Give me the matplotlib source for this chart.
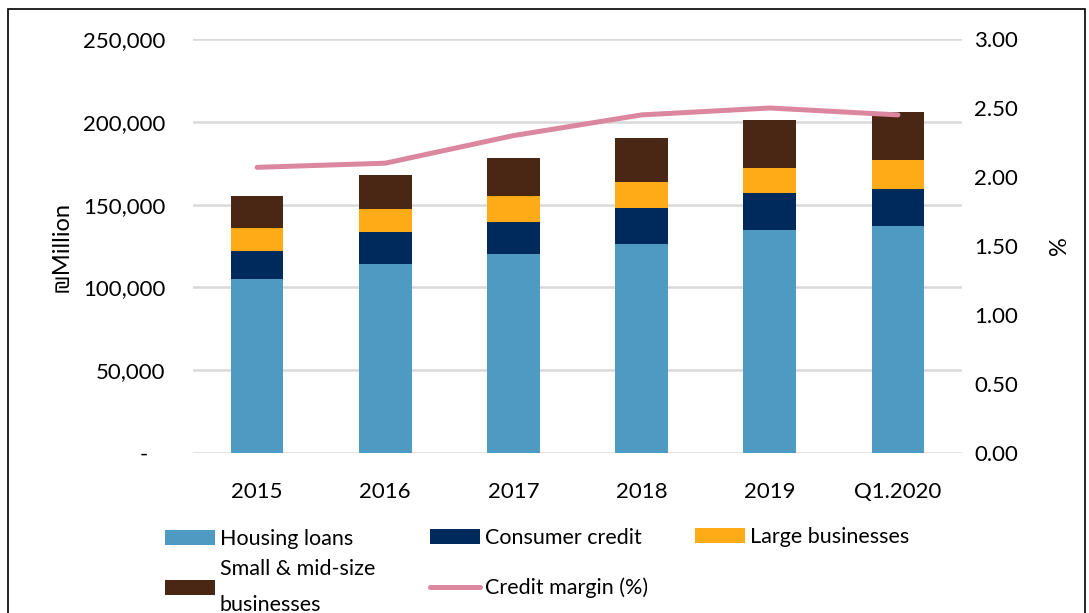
import matplotlib.pyplot as plt
import numpy as np
from matplotlib.patches import Rectangle
from matplotlib.ticker import FuncFormatter

categories = ['2015', '2016', '2017', '2018', '2019', 'Q1.2020']
housing = [104900, 114000, 120000, 126000, 134500, 136900]
consumer = [16900, 19300, 19300, 21700, 22300, 22300]
large = [13900, 13800, 15700, 15700, 15100, 17500]
small = [19300, 20500, 22900, 26600, 28900, 29500]
margin = [2.07, 2.10, 2.30, 2.45, 2.50, 2.45]

plt.rcParams['font.family'] = ['Lato', 'DejaVu Sans']
fs = 16
lfs = 15.5

fig = plt.figure(figsize=(10.89, 6.13), dpi=100)
ax = fig.add_axes([193/1089, 1-453/613, 769/1089, 414/613])
ax2 = ax.twinx()

x = np.arange(len(categories))
w = 0.41
b1 = ax.bar(x, housing, w, color='#4F9AC2', zorder=3)
bot = np.array(housing)
b2 = ax.bar(x, consumer, w, bottom=bot, color='#002A5C', zorder=3)
bot = bot + np.array(consumer)
b3 = ax.bar(x, large, w, bottom=bot, color='#FFAA17', zorder=3)
bot = bot + np.array(large)
b4 = ax.bar(x, small, w, bottom=bot, color='#4A2614', zorder=3)

ln, = ax2.plot(x, margin, color='#DB87A0', lw=3.6, solid_capstyle='round', zorder=4)

ax.set_xlim(-0.5, 5.5)
ax.set_ylim(0, 250000)
ax2.set_ylim(0, 3.0)
ax.set_yticks(np.arange(0, 250001, 50000))
ax2.set_yticks(np.arange(0, 3.01, 0.5))
ax.yaxis.set_major_formatter(FuncFormatter(lambda v, p: '-   ' if v == 0 else f'{int(v):,}'))
ax2.yaxis.set_major_formatter(FuncFormatter(lambda v, p: f'{v:.2f}'))
ax.grid(axis='y', color='#d9d9d9', lw=1.8, zorder=0)
ax.set_axisbelow(True)

for a in (ax, ax2):
    for s in a.spines.values():
        s.set_visible(False)
    a.tick_params(length=0, labelsize=fs, colors='black')
ax.tick_params(axis='y', pad=20)
ax2.tick_params(axis='y', pad=9)
ax.tick_params(axis='x', pad=21)
ax.set_xticks(x)
ax.set_xticklabels(categories)

ax.set_ylabel('₪Million', fontsize=fs+1, labelpad=8)
ax2.set_ylabel('%', fontsize=fs+1, labelpad=22)

# legend: one box per entry, laid out like the Excel legend
handles = [b1, b2, b3, b4, ln]
labels = ['Housing loans', 'Consumer credit', 'Large businesses',
          'Small & mid-size\nbusinesses', 'Credit margin (%)']
spots = [(165, 539), (430, 538), (695, 537), (165, 587), (430, 588)]
for h, lab, (px, py) in zip(handles, labels, spots):
    leg = fig.legend([h], [lab], loc='center left',
                     bbox_to_anchor=(px/1089, 1-py/613), frameon=False,
                     fontsize=lfs, handlelength=2.3, handleheight=0.65,
                     handletextpad=0.25, borderaxespad=0, borderpad=0)
    leg.get_texts()[0].set_linespacing(1.95)

fig.patches.append(Rectangle((8/1089, -0.1), 1077/1089, 1.1 - 9/613,
                             transform=fig.transFigure, fill=False,
                             edgecolor='black', lw=1.2))

fig.savefig('out.png', dpi=100)
